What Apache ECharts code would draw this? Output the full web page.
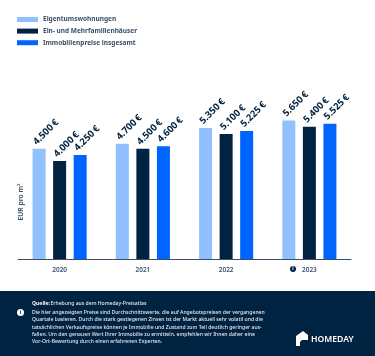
<!DOCTYPE html>
<html>
<head>
<meta charset="utf-8">
<style>
  html, body { margin: 0; padding: 0; background: #fff; }
  #chart { width: 375px; height: 356px; }
</style>
<script src="https://cdn.jsdelivr.net/npm/echarts@6/dist/echarts.min.js"></script>
</head>
<body>
<div id="chart"></div>
<script>
const YEARS = ['2020', '2021', '2022', '2023'];
const SERIES_NAMES = ['Eigentumswohnungen', 'Ein- und Mehrfamilienhäuser', 'Immobilienpreise insgesamt'];
const WOHNUNGEN = [4500, 4700, 5350, 5650];
const HAEUSER = [4000, 4500, 5100, 5400];
const GESAMT = [4250, 4600, 5225, 5525];
const COLORS = ['#91c0ff', '#002341', '#0064ff'];

const FOOTER_SOURCE = 'Erhebung aus dem Homeday-Preisatlas';
const FOOTER_LINES = [
  'Die hier angezeigten Preise sind Durchschnittswerte, die auf Angebotspreisen der vergangenen',
  'Quartale basieren. Durch die stark gestiegenen Zinsen ist der Markt aktuell sehr volatil und die',
  'tatsächlichen Verkaufspreise können je Immobilie und Zustand zum Teil deutlich geringer aus-',
  'fallen. Um den genauen Wert Ihrer Immobilie zu ermitteln, empfehlen wir Ihnen daher eine',
  'Vor-Ort-Bewertung durch einen erfahrenen Experten.'
];

const FONT = '"Noto Sans", sans-serif';
const NAVY = '#002341';
const SLATE = '#3a5068';

function euro(value) {
  return String(value).replace(/(\d)(\d{3})$/, '$1.$2') + '\u202f€';
}

function makeSeries(name, data, color) {
  return {
    name: name,
    type: 'bar',
    data: data,
    barWidth: 13,
    barGap: '58%',
    itemStyle: { color: color },
    silent: true,
    label: {
      show: true,
      position: 'top',
      distance: 4,
      offset: [-2, -4],
      rotate: 45,
      align: 'left',
      verticalAlign: 'middle',
      color: NAVY,
      fontFamily: FONT,
      fontWeight: 700,
      fontSize: 9.5,
      formatter: p => euro(p.value)
    }
  };
}

let footerGraphics = [
  { type: 'rect', shape: { x: 0, y: 291, width: 375, height: 65 }, style: { fill: NAVY }, z: 1 },
  { type: 'circle', shape: { cx: 20.5, cy: 312.5, r: 3.5 }, style: { fill: '#fff' }, z: 2 },
  { type: 'text', x: 20.5, y: 312.5, style: { text: 'i', fill: NAVY, font: '700 5px ' + FONT, align: 'center', verticalAlign: 'middle' }, z: 3 },
  { type: 'text', x: 32, y: 301.3, style: { text: 'Quelle:', fill: '#fff', font: '700 5.1px ' + FONT }, z: 2 },
  { type: 'text', x: 50.5, y: 301.3, style: { text: FOOTER_SOURCE, fill: '#e6eaf0', font: '500 5.1px ' + FONT }, z: 2 },
  { type: 'text', x: 311, y: 335, style: { text: 'HOMEDAY', fill: '#fff', font: '600 8.6px ' + FONT }, z: 2 },
  {
    type: 'polygon', z: 2,
    shape: { points: [[296, 336], [303, 331], [308, 335], [308, 340], [302, 340], [300, 342], [300, 346], [296, 346]] },
    style: { fill: '#fff' }
  },
  { type: 'circle', shape: { cx: 293, cy: 269, r: 3 }, style: { fill: NAVY }, z: 2 },
  { type: 'text', x: 293, y: 269, style: { text: 'i', fill: '#fff', font: '700 4.5px ' + FONT, align: 'center', verticalAlign: 'middle' }, z: 3 },
  {
    type: 'text', x: 21, y: 202, rotation: Math.PI / 2,
    style: { text: 'EUR pro m²', fill: SLATE, font: '600 6.8px ' + FONT, align: 'center', verticalAlign: 'middle' }
  }
];

FOOTER_LINES.forEach((line, i) => {
  footerGraphics.push({
    type: 'text', x: 32, y: 310.3 + i * 7.15, z: 2,
    style: { text: line, fill: '#e6eaf0', font: '500 5.1px ' + FONT }
  });
});

let chart = echarts.init(document.querySelector('#chart'), null, { renderer: 'canvas' });

chart.setOption({
  animation: false,
  backgroundColor: '#fff',
  textStyle: { fontFamily: FONT },
  legend: {
    orient: 'vertical',
    left: 17,
    top: 16,
    padding: 0,
    itemWidth: 21,
    itemHeight: 5,
    itemGap: 4.6,
    icon: 'rect',
    data: SERIES_NAMES,
    selectedMode: false,
    textStyle: { color: SLATE, fontFamily: FONT, fontWeight: 700, fontSize: 6.5 }
  },
  grid: { left: 18, right: 24, top: 112, height: 147 },
  xAxis: {
    type: 'category',
    data: YEARS,
    axisTick: { show: false },
    axisLine: { lineStyle: { color: '#3a4f66', width: 1 } },
    axisLabel: { color: SLATE, fontFamily: FONT, fontSize: 6.5, fontWeight: 600, margin: 7.5 }
  },
  yAxis: {
    type: 'value',
    min: 0,
    max: 6000,
    interval: 1000,
    axisLine: { show: false },
    axisTick: { show: false },
    axisLabel: { show: false },
    splitLine: { show: false }
  },
  series: [
    makeSeries(SERIES_NAMES[0], WOHNUNGEN, COLORS[0]),
    makeSeries(SERIES_NAMES[1], HAEUSER, COLORS[1]),
    makeSeries(SERIES_NAMES[2], GESAMT, COLORS[2])
  ],
  graphic: footerGraphics
});
</script>
</body>
</html>
